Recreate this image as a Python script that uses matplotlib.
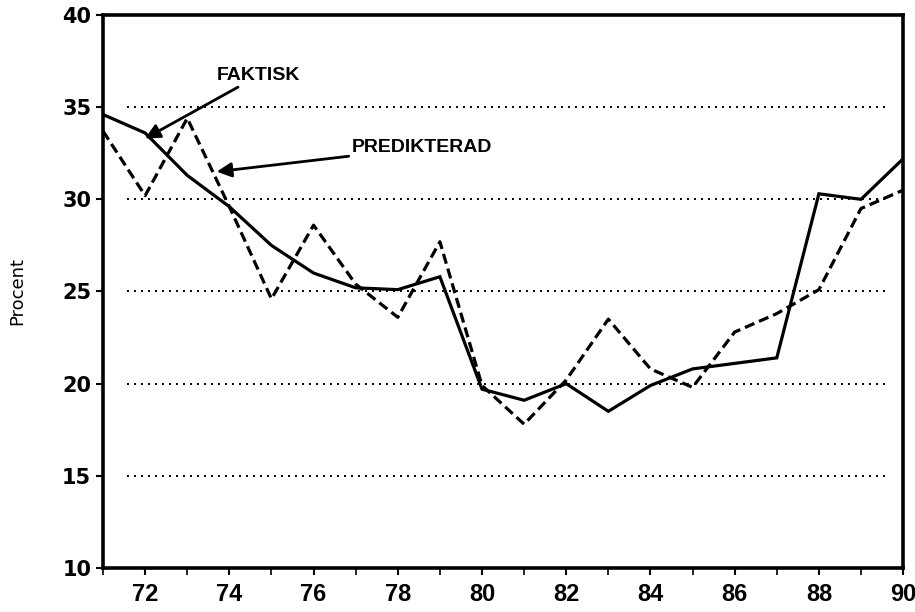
import matplotlib
matplotlib.use("Agg")
import matplotlib.pyplot as plt

years = list(range(71, 91))
faktisk = [34.6, 33.6, 31.3, 29.6, 27.5, 26.0, 25.2, 25.1, 25.8, 19.7,
           19.1, 20.0, 18.5, 19.9, 20.8, 21.1, 21.4, 30.3, 30.0, 32.2]
predikterad = [33.7, 30.2, 34.4, 29.6, 24.6, 28.6, 25.4, 23.6, 27.7, 19.9,
               17.8, 20.2, 23.5, 20.8, 19.8, 22.8, 23.8, 25.1, 29.5, 30.5]
grid_levels = [15, 20, 25, 30, 35]
x_ticks = [72, 74, 76, 78, 80, 82, 84, 86, 88, 90]
y_ticks = [10, 15, 20, 25, 30, 35, 40]

fig = plt.figure(figsize=(9.15, 6.12), dpi=100)
ax = fig.add_axes([0.1126, 0.0719, 0.8744, 0.9036])

for g in grid_levels:
    ax.axhline(g, xmin=0.03, xmax=0.98, color='black', lw=1.4,
               linestyle=(0, (1, 2.6)), zorder=1)

ax.plot(years, faktisk, color='black', lw=2.3, solid_joinstyle='miter', zorder=3)
ax.plot(years, predikterad, color='black', lw=2.3, linestyle=(0, (3.2, 1.6)), zorder=3)

ax.set_xlim(71, 90)
ax.set_ylim(10, 40)
ax.set_xticks(x_ticks)
ax.set_xticks(years, minor=True)
ax.set_yticks(y_ticks)
ax.tick_params(axis='both', direction='out', width=1.5, length=5)
ax.tick_params(axis='x', which='both', pad=6)
ax.tick_params(axis='x', which='minor', direction='out', width=1.2, length=5)
for lab in ax.get_xticklabels():
    lab.set_fontfamily('Liberation Sans')
    lab.set_fontweight('bold')
    lab.set_fontsize(17)
for lab in ax.get_yticklabels():
    lab.set_fontfamily('DejaVu Sans')
    lab.set_fontweight('bold')
    lab.set_fontsize(15)
for s in ax.spines.values():
    s.set_linewidth(2.6)

ax.set_ylabel('Procent', fontsize=13, fontfamily='DejaVu Sans', labelpad=26)

ax.annotate('FAKTISK', xy=(72.0, 33.3), xytext=(73.7, 36.7),
            fontsize=14, fontfamily='Liberation Sans', fontweight='bold',
            va='center', ha='left',
            arrowprops=dict(arrowstyle='-|>', color='black', lw=2,
                            mutation_scale=22, shrinkA=0, shrinkB=0))
ax.annotate('PREDIKTERAD', xy=(73.7, 31.5), xytext=(76.9, 32.8),
            fontsize=14, fontfamily='Liberation Sans', fontweight='bold',
            va='center', ha='left',
            arrowprops=dict(arrowstyle='-|>', color='black', lw=2,
                            mutation_scale=22, shrinkA=0, shrinkB=0))

fig.savefig('out.png', dpi=100)
